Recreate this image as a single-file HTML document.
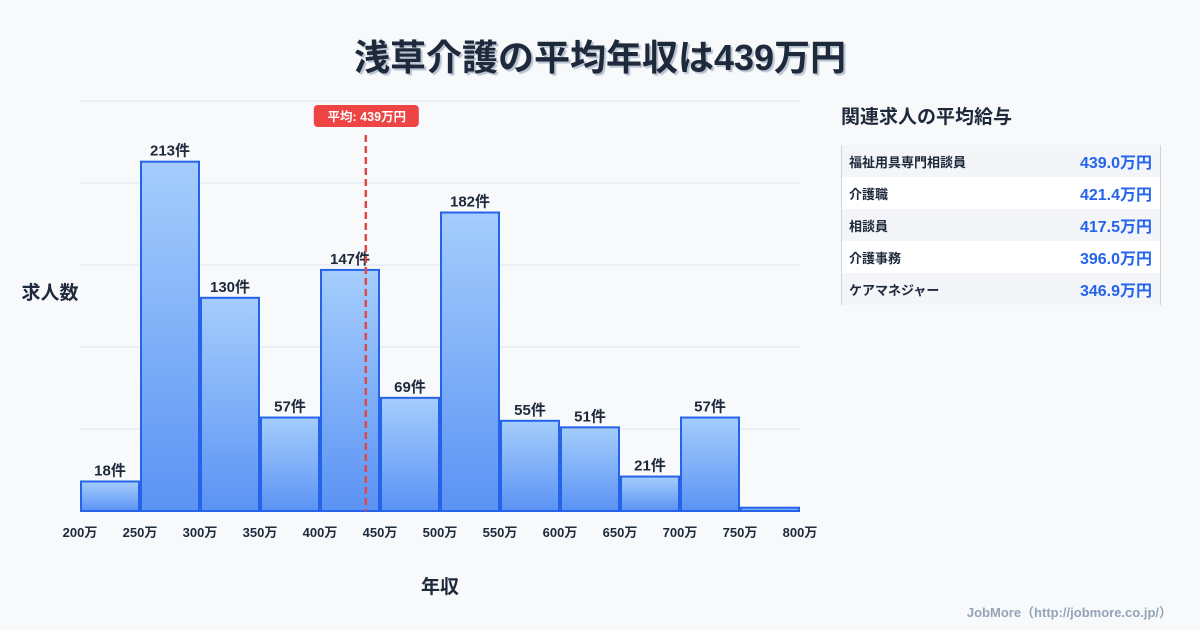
<!DOCTYPE html>
<html><head><meta charset="utf-8"><style>
body{margin:0;width:1200px;height:630px;background:#f8f9fb;font-family:"Liberation Sans","Noto Sans CJK JP",sans-serif;overflow:hidden;position:relative;color:#1e293b}
.title{position:absolute;top:29px;left:0;width:1200px;text-align:center;font-size:36px;font-weight:bold;color:#1e293b;text-shadow:2px 2px 1px #b8c2d0}
.side-title{position:absolute;left:841px;top:102px;font-size:19px;font-weight:bold}
.table{position:absolute;left:841px;top:145px;width:318px;border-left:1px solid #cbd5e1;border-right:1px solid #cbd5e1}
.row{height:32px;display:flex;justify-content:space-between;align-items:center;padding:0 8px 0 7px;font-size:13px;font-weight:bold;color:#1e293b}
.row:nth-child(odd){background:#f3f5f8}.row:nth-child(even){background:#fff}
.row span:last-child{color:#2563eb;font-size:16px}
.foot{position:absolute;right:28px;top:602px;font-size:13px;color:#94a3b8;font-weight:bold}
</style></head><body>
<div class="title">浅草介護の平均年収は439万円</div>
<svg id="chart" width="830" height="630" style="position:absolute;left:0;top:0">
<defs><linearGradient id="g" x1="0" y1="0" x2="0" y2="1"><stop offset="0" stop-color="#a5cdfc"/><stop offset="1" stop-color="#5b93f4"/></linearGradient></defs>
</svg>
<div class="side-title">関連求人の平均給与</div>
<div class="table">
<div class="row"><span>福祉用具専門相談員</span><span>439.0万円</span></div>
<div class="row"><span>介護職</span><span>421.4万円</span></div>
<div class="row"><span>相談員</span><span>417.5万円</span></div>
<div class="row"><span>介護事務</span><span>396.0万円</span></div>
<div class="row"><span>ケアマネジャー</span><span>346.9万円</span></div>
</div>
<div class="foot">JobMore（http://jobmore.co.jp/）</div>
<script>
const binStarts=[200,250,300,350,400,450,500,550,600,650,700,750];
const counts=[18,213,130,57,147,69,182,55,51,21,57,2];
const xTicks=[200,250,300,350,400,450,500,550,600,650,700,750,800];
const yGrid=[0,50,100,150,200,250];
const meanValue=439;
const NS="http://www.w3.org/2000/svg";
const svg=document.getElementById('chart');
const X=v=>80+(v-200)*720/600;
const Y=v=>511-v*410/250;
function mk(t,a,txt){const e=document.createElementNS(NS,t);for(const k in a)e.setAttribute(k,a[k]);if(txt!==undefined)e.textContent=txt;svg.appendChild(e);return e;}
yGrid.forEach(v=>{const l=mk('line',{x1:80,x2:800,y1:Y(v),y2:Y(v),stroke:'#e2e8f0','stroke-width':1});

});
binStarts.forEach((s,i)=>{const x0=X(s)+1,x1=X(s+50)-1,y=Y(counts[i]);
const r=mk('rect',{x:x0,y:y,width:x1-x0,height:511-y,fill:'url(#g)',stroke:'#2563eb','stroke-width':2});


if(counts[i]>=10){const t=mk('text',{x:(x0+x1)/2,y:y-6,'text-anchor':'middle','font-size':15,'font-weight':'bold',fill:'#1e293b'},counts[i]+'件');

}});
xTicks.forEach(v=>{const t=mk('text',{x:X(v),y:537,'text-anchor':'middle','font-size':13,'font-weight':'bold',fill:'#1e293b'},v+'万');

});
const mx=X(meanValue)-1;
const ml=mk('line',{x1:mx,x2:mx,y1:135,y2:511,stroke:'#e04848','stroke-width':2.5,'stroke-dasharray':'7,4'});


const mb=mk('rect',{x:mx-52,y:105,width:105,height:22,rx:4,fill:'#ef4444'});


const mt=mk('text',{x:mx+1,y:121,'text-anchor':'middle','font-size':12.5,'font-weight':'bold',fill:'#fff'},'平均: '+meanValue+'万円');


const yt=mk('text',{x:50,y:299,'text-anchor':'middle','font-size':19,'font-weight':'bold',fill:'#1e293b'},'求人数');


const xt=mk('text',{x:440,y:593,'text-anchor':'middle','font-size':19,'font-weight':'bold',fill:'#1e293b'},'年収');


</script>
</body></html>
